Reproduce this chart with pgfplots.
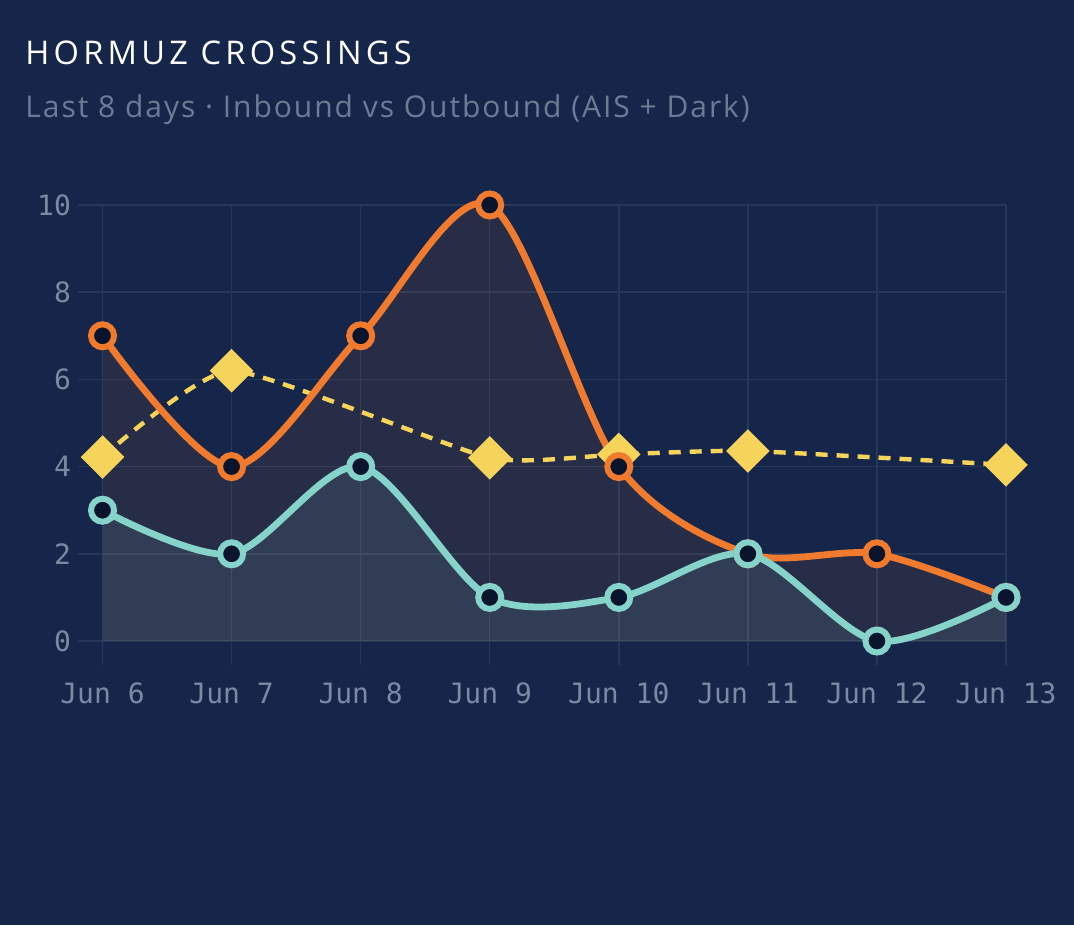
\documentclass[border=0pt]{standalone}
\usepackage{pgfplots}
\pgfplotsset{compat=1.18}
\usepackage{fontspec}
\setmainfont{Open Sans}
\newfontfamily\monofont{DejaVu Sans Mono}
\definecolor{bg}{RGB}{21,38,74}
\definecolor{gridc}{RGB}{38,55,90}
\definecolor{tickc}{RGB}{125,137,163}
\definecolor{subc}{RGB}{110,122,150}
\definecolor{orangec}{RGB}{240,122,46}
\definecolor{tealc}{RGB}{134,211,203}
\definecolor{yellowc}{RGB}{246,211,91}
\definecolor{dotc}{RGB}{10,20,45}
\begin{document}
\begin{tikzpicture}
\fill[bg] (0pt,0pt) rectangle (537pt,462.5pt);
\node[anchor=base west, inner sep=0, text=white, font=\fontsize{16.3}{19}\selectfont\addfontfeatures{LetterSpace=13}] at (12.5pt,430pt) {HORMUZ CROSSINGS};
\node[anchor=base west, inner sep=0, text=subc, font=\fontsize{15}{17}\selectfont\addfontfeatures{LetterSpace=6.5}] at (12.5pt,403.5pt) {Last 8 days · Inbound vs Outbound (AIS + Dark)};
\begin{axis}[
  at={(39pt,130pt)}, anchor=south west,
  scale only axis, width=464pt, height=230pt,
  xmin=-0.19, xmax=7, ymin=-0.55, ymax=10,
  xtick={0,1,2,3,4,5,6,7},
  xticklabels={Jun 6,Jun 7,Jun 8,Jun 9,Jun 10,Jun 11,Jun 12,Jun 13},
  ytick={0,2,4,6,8,10},
  grid=major,
  major grid style={draw=gridc, line width=0.75pt},
  axis line style={draw=none},
  major tick length=0pt,
  /pgf/number format/assume math mode=true,
  tick label style={text=tickc, font=\monofont\fontsize{14}{16}\selectfont},
  xticklabel style={yshift=-5.5pt},
  clip=false,
]
% fills
\addplot[draw=none, fill=orangec, fill opacity=0.09, smooth] coordinates {
(0,7) (1,4) (2,7) (3,10) (4,4) (5,2) (6,2) (7,1)} \closedcycle;
\addplot[draw=none, fill=tealc, fill opacity=0.1, smooth] coordinates {
(0,3) (1,2) (2,4) (3,1) (4,1) (5,2) (6,0) (7,1)} \closedcycle;
% yellow dashed
\addplot[yellowc, line width=2.2pt, dash pattern=on 6pt off 4.5pt, smooth, tension=0.3,
  mark=square*, mark size=6.6pt, mark options={solid, rotate=45, fill=yellowc, draw=none}] coordinates {
(0,4.22) (1,6.2) (3,4.2) (4,4.28) (5,4.36) (7,4.04)};
% orange
\addplot[orangec, line width=3.4pt, smooth,
  mark=*, mark size=5.75pt, mark options={fill=dotc, draw=orangec, line width=3pt}] coordinates {
(0,7) (1,4) (2,7) (3,10) (4,4) (5,2) (6,2) (7,1)};
% teal
\addplot[tealc, line width=3.4pt, smooth,
  mark=*, mark size=5.75pt, mark options={fill=dotc, draw=tealc, line width=3pt}] coordinates {
(0,3) (1,2) (2,4) (3,1) (4,1) (5,2) (6,0) (7,1)};
\end{axis}
\end{tikzpicture}
\end{document}
